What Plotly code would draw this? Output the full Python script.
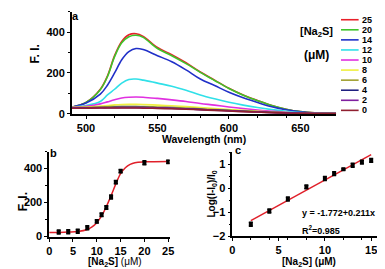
import plotly.graph_objects as go

W, H = 385, 269

# ---------- data ----------
wavelength = [490, 500, 510, 515, 520, 525, 530, 535, 540, 550, 560, 570, 580, 590, 600, 610, 620, 630, 640, 650, 660, 675]
conc_labels = ["25", "20", "14", "12", "10", "8", "6", "4", "2", "0"]
spec_25 = [32, 55, 120, 185, 285, 355, 388, 393, 380, 325, 290, 250, 205, 165, 125, 92, 65, 40, 22, 10, 4, 1]
spec_20 = [32, 55, 118, 182, 280, 348, 378, 385, 375, 320, 285, 246, 203, 163, 124, 91, 64, 40, 22, 10, 4, 1]
spec_14 = [32, 52, 96, 140, 200, 265, 305, 320, 315, 285, 255, 215, 170, 138, 105, 78, 55, 34, 19, 9, 3, 1]
spec_12 = [32, 40, 60, 92, 120, 150, 168, 170, 165, 150, 135, 115, 92, 73, 56, 42, 30, 20, 12, 6, 2, 1]
spec_10 = [31, 36, 48, 58, 68, 77, 81, 82, 81, 75, 68, 60, 50, 42, 33, 25, 18, 12, 7, 4, 2, 1]
spec_8 = [30, 32, 37, 40, 43, 45, 46, 46, 45, 42, 39, 35, 30, 25, 20, 16, 12, 8, 5, 3, 1, 0]
spec_6 = [30, 31, 33, 34, 35, 36, 36, 36, 35, 33, 31, 28, 24, 20, 16, 13, 10, 7, 4, 2, 1, 0]
spec_4 = [29, 29, 30, 30, 31, 31, 31, 31, 31, 29, 27, 24, 21, 18, 15, 12, 9, 6, 4, 2, 1, 0]
spec_2 = [28, 28, 29, 29, 29, 30, 30, 30, 29, 28, 26, 23, 20, 17, 14, 11, 8, 6, 4, 2, 1, 0]
spec_0 = [27, 27, 28, 28, 28, 28, 28, 28, 27, 26, 24, 22, 19, 16, 13, 10, 8, 5, 3, 2, 1, 0]
spectra = [spec_25, spec_20, spec_14, spec_12, spec_10, spec_8, spec_6, spec_4, spec_2, spec_0]
spec_colors = ["#e8202a", "#3ec42a", "#2030c8", "#30e0e8", "#e030e0", "#f0f040", "#a0a030", "#202080", "#8020a0", "#902030"]

b_conc = [2, 4, 6, 8, 10, 11, 12, 13, 14, 15, 20, 25]
b_fi = [25, 27, 30, 50, 88, 127, 170, 232, 320, 385, 435, 440]
b_err = [12, 12, 12, 12, 10, 10, 10, 12, 10, 10, 12, 10]
b_fit_x = [0, 2, 4, 6, 8, 9, 10, 11, 12, 13, 14, 15, 16, 17, 18, 20, 22, 25]
b_fit_y = [22, 23, 25, 28, 40, 55, 80, 120, 175, 240, 310, 370, 405, 425, 435, 440, 441, 442]

c_conc = [2, 4, 6, 8, 10, 11, 12, 13, 14, 15]
c_log = [-1.5, -0.95, -0.45, 0.05, 0.4, 0.6, 0.78, 0.95, 1.08, 1.15]
c_err = [0.08, 0.08, 0.08, 0.08, 0.08, 0.08, 0.04, 0.08, 0.08, 0.08]
c_fit_x = [2, 15]
c_fit_y = [-1.35, 1.39]

a_xticks = [500, 550, 600, 650]
a_yticks = [0, 200, 400]
b_xticks = [0, 5, 10, 15, 20, 25]
b_yticks = [0, 200, 400]
c_xticks = [0, 5, 10, 15]
c_yticks = [-2, -1, 0, 1]

# ---------- helpers ----------
def px(x):
    return x / W

def py(y):
    return 1 - y / H

FONT = "Liberation Sans, Arial, sans-serif"

fig = go.Figure()

for vals, col, lab in zip(spectra, spec_colors, conc_labels):
    fig.add_trace(go.Scatter(x=wavelength, y=vals, mode="lines", line=dict(color=col, width=1.6, shape="spline"),
                             xaxis="x", yaxis="y", showlegend=False, name=lab))

fig.add_trace(go.Scatter(x=b_fit_x, y=b_fit_y, mode="lines", line=dict(color="#e0202a", width=1.5, shape="spline"),
                         xaxis="x2", yaxis="y2", showlegend=False))
fig.add_trace(go.Scatter(x=b_conc, y=b_fi, mode="markers", marker=dict(color="black", size=4, symbol="square"),
                         error_y=dict(type="data", array=b_err, color="black", thickness=1.5, width=2),
                         xaxis="x2", yaxis="y2", showlegend=False))

fig.add_trace(go.Scatter(x=c_fit_x, y=c_fit_y, mode="lines", line=dict(color="#e0202a", width=1.5),
                         xaxis="x3", yaxis="y3", showlegend=False))
fig.add_trace(go.Scatter(x=c_conc, y=c_log, mode="markers", marker=dict(color="black", size=4, symbol="square"),
                         error_y=dict(type="data", array=c_err, color="black", thickness=1.5, width=2),
                         xaxis="x3", yaxis="y3", showlegend=False))

tickfont = dict(family=FONT, size=11, color="black", weight="bold")
common = dict(showline=True, linecolor="black", linewidth=1.5, ticks="outside", ticklen=3, tickwidth=1.2,
              tickcolor="black", showgrid=False, zeroline=False, tickfont=tickfont,
              minor=dict(ticks="outside", ticklen=2, tickwidth=1, tickcolor="black", nticks=2))

fig.update_layout(
    width=W, height=H, margin=dict(l=0, r=0, t=0, b=0),
    paper_bgcolor="white", plot_bgcolor="white", showlegend=False,
    xaxis=dict(domain=[px(62), px(332)], range=[490, 675], tickvals=a_xticks, anchor="y", **common),
    yaxis=dict(domain=[py(108.5), py(4)], range=[-2, 500], tickvals=a_yticks, anchor="x", **common),
    xaxis2=dict(domain=[px(39), px(162)], range=[0, 25.3], tickvals=b_xticks, anchor="y2", **common),
    yaxis2=dict(domain=[py(234), py(147)], range=[-3, 500], tickvals=b_yticks, anchor="x2", **common),
    xaxis3=dict(domain=[px(226), px(382)], range=[0, 16.5], tickvals=c_xticks, anchor="y3", **common),
    yaxis3=dict(domain=[py(233.5), py(147.3)], range=[-2, 1.5], tickvals=c_yticks, anchor="x3", **common),
)

ann = []
def add_text(x, y, text, size=11, bold=True, xanchor="center", angle=0):
    ann.append(dict(x=px(x), y=py(y), xref="paper", yref="paper", text=text, showarrow=False,
                    xanchor=xanchor, yanchor="middle", textangle=angle, borderpad=0,
                    font=dict(family=FONT, size=size, color="black", weight="bold" if bold else "normal")))

add_text(66, 8, "a", 11)
add_text(24, 47, "F. I.", 12, angle=-90)
add_text(197, 134, "Wavelength (nm)", 10.5)
add_text(312, 25, "[Na<sub>2</sub>S]", 11)
add_text(312, 48, "(μM)", 12)

shapes = []
leg_y0, leg_dy = 12, 10.3
for i, (col, lab) in enumerate(zip(spec_colors, conc_labels)):
    yy = leg_y0 + i * leg_dy
    shapes.append(dict(type="line", xref="paper", yref="paper", x0=px(337), x1=px(355), y0=py(yy), y1=py(yy),
                       line=dict(color=col, width=1.6)))
    add_text(357, yy, lab, 9, xanchor="left")

add_text(43, 148, "b", 11)
add_text(12, 198, "F. I.", 12, angle=-90)
add_text(106, 260, "<b>[Na<sub>2</sub>S]</b> (μM)", 10, bold=False)

add_text(232, 145, "c", 11)
add_text(205, 190, "Log(I-I<sub>0</sub>)/I<sub>0</sub>", 10, angle=-90)
add_text(304, 260, "[Na<sub>2</sub>S] (μM)", 10)
add_text(296, 210, "y = -1.772+0.211x", 9, xanchor="left")
add_text(296, 227, "R<sup>2</sup>=0.985", 9, xanchor="left")

fig.update_layout(annotations=ann, shapes=shapes)
fig.write_html("out.html")
